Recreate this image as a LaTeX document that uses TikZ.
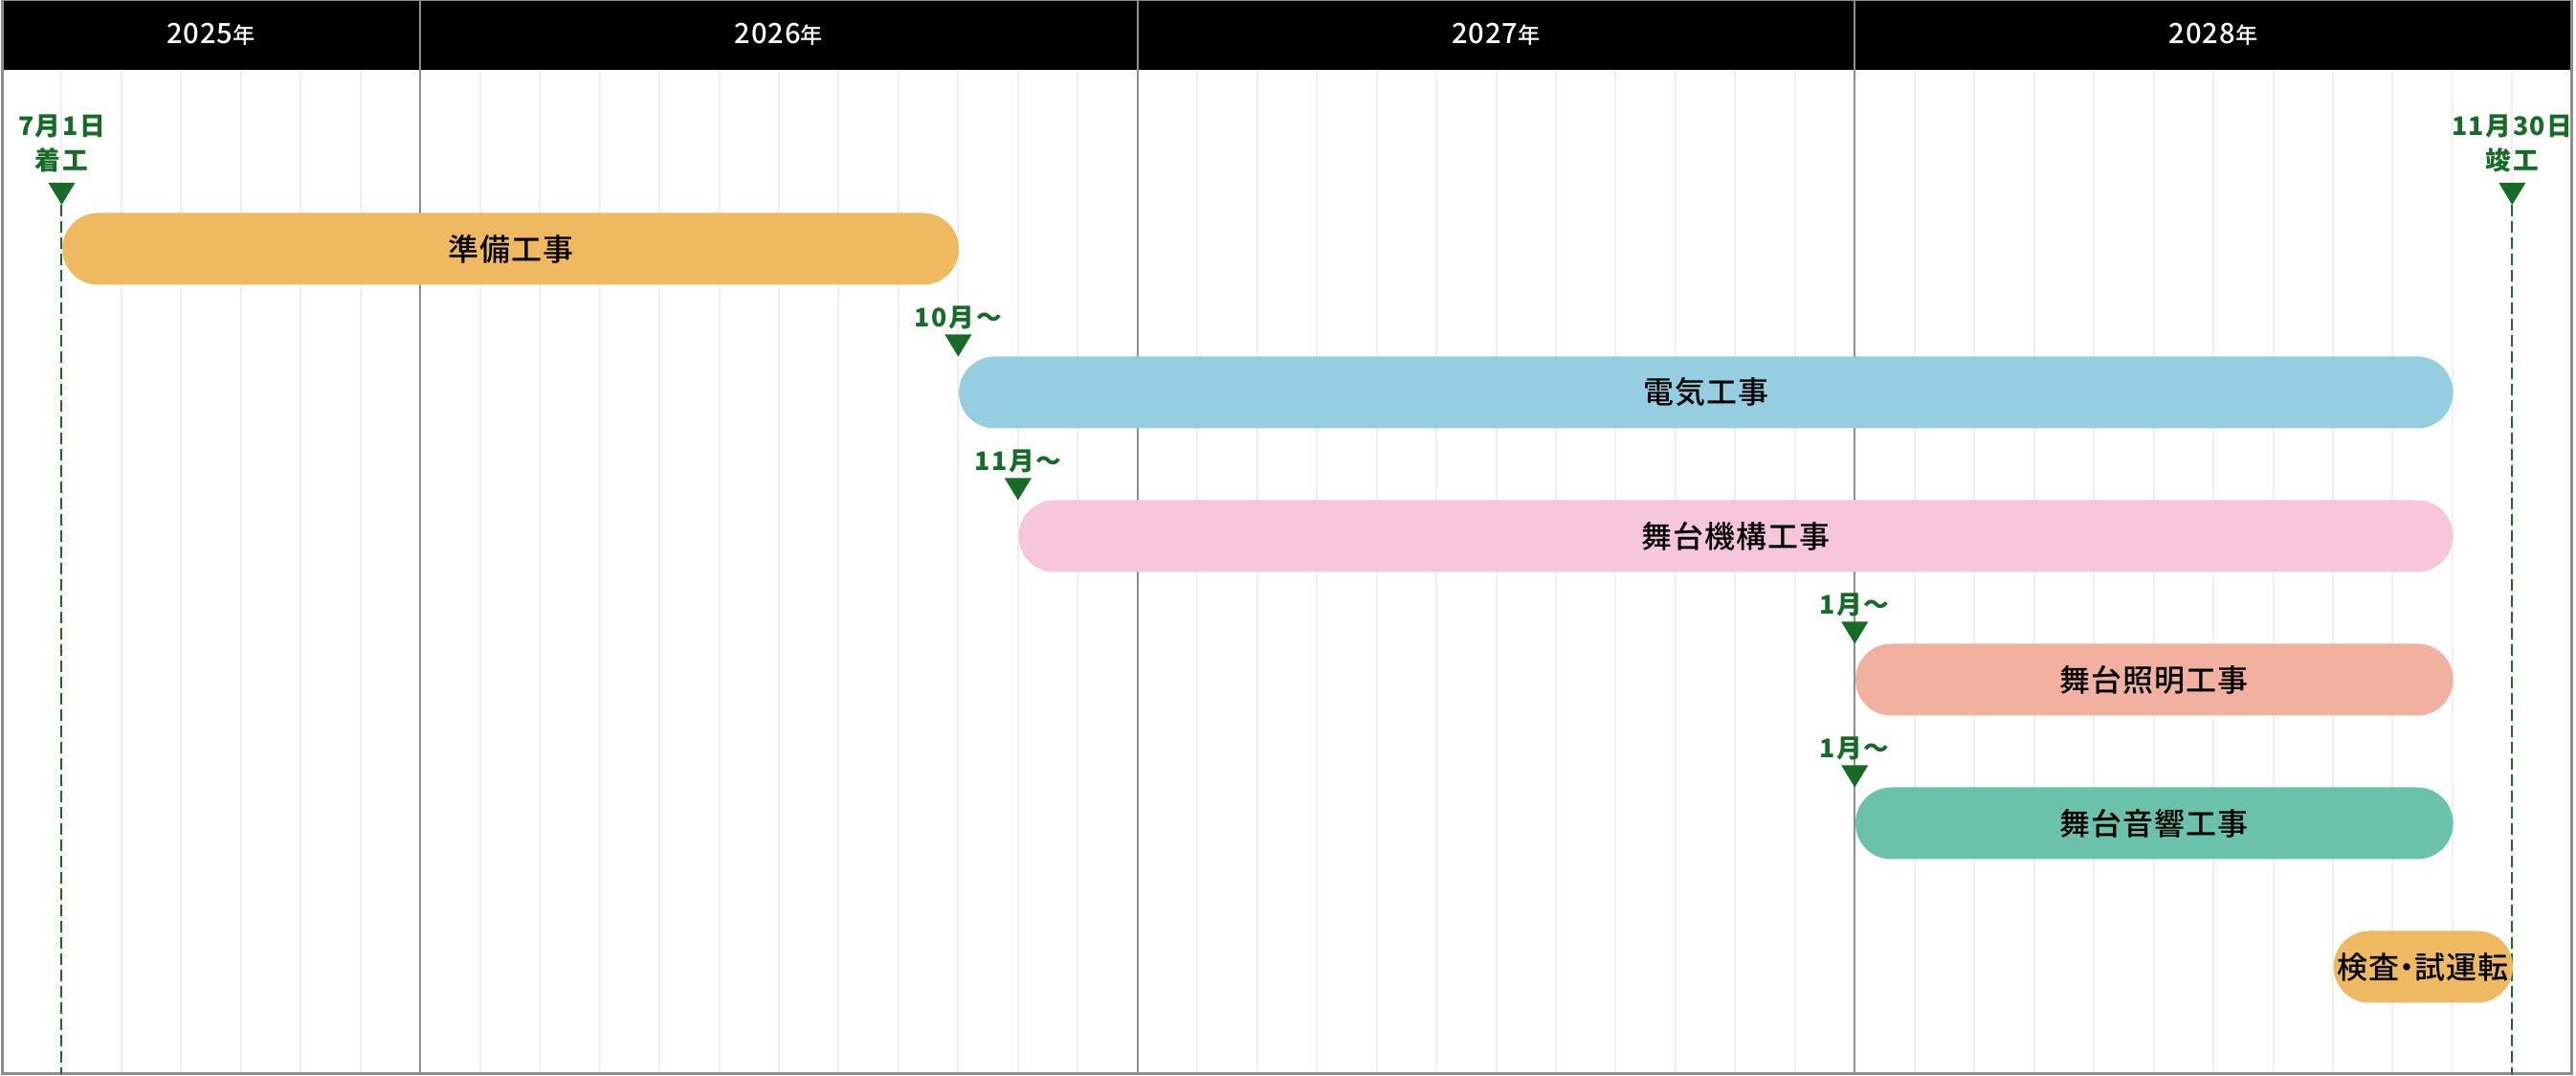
\documentclass[tikz,border=0pt]{standalone}
\usepackage{fontspec}
\setmainfont{Noto Sans CJK JP}
\newfontfamily\tagfont{Noto Sans CJK JP}[LetterSpace=6]
\newfontfamily\medfont{Noto Sans CJK JP Medium}[LetterSpace=3]
\usetikzlibrary{positioning}
\definecolor{mkgreen}{HTML}{166B27}
\definecolor{gridgray}{HTML}{EFEFEF}
\definecolor{yeargray}{HTML}{8E8E8E}
\definecolor{barprep}{HTML}{EFB961}
\definecolor{barelec}{HTML}{94CEE0}
\definecolor{barmech}{HTML}{F7C6DA}
\definecolor{barlight}{HTML}{F1B0A0}
\definecolor{barsound}{HTML}{69C2A9}

\begin{document}
\begin{tikzpicture}[x=6.246mm, y=1cm,
    barbox/.style={rectangle, rounded corners=3.75mm, minimum height=7.5mm, inner sep=0pt, anchor=west,
        text=black, font=\medfont\fontsize{9.1}{9}\selectfont},
    datetag/.style={text=mkgreen, inner sep=0pt, font=\tagfont\fontsize{7.6}{8}\selectfont\bfseries},
    yearlabel/.style={text=white, inner sep=0pt, font=\medfont\fontsize{8.3}{8}\selectfont},
    tipmark/.style={fill=mkgreen},
    duedash/.style={mkgreen, line width=0.2mm, dash pattern=on 1.2mm off 0.5mm}]
    \useasboundingbox (-0.032,0) rectangle (43.068,-11.24);
    % header and month grid
    \fill[black] (0,0) rectangle (43,-0.726);
    \foreach \m in {1,...,42}
        \draw[gridgray, line width=0.2mm] (\m,-0.726) -- (\m,-11.22);
    \foreach \m in {7,19,31}
        \draw[yeargray, line width=0.2mm] (\m,0) -- (\m,-11.22);
    \draw[yeargray, line width=0.3mm] (0,0) rectangle (43,-11.22);
    \node[yearlabel] (y2025) at (3.5,-0.363) {2025{\fontsize{6.6}{7}\selectfont 年}};
    \node[yearlabel] (y2026) at (13,-0.363) {2026{\fontsize{6.6}{7}\selectfont 年}};
    \node[yearlabel] (y2027) at (25,-0.363) {2027{\fontsize{6.6}{7}\selectfont 年}};
    \node[yearlabel] (y2028) at (37,-0.363) {2028{\fontsize{6.6}{7}\selectfont 年}};

    % marker tips
    \coordinate (bottom) at (0,-11.22);
    \coordinate (start) at (1,-2.14);
    \coordinate (finish) at (42,-2.14);
    \coordinate (t2) at (16,-3.725);
    \coordinate (t3) at (17,-5.225);
    \coordinate (t4) at (31,-6.725);
    \coordinate (t5) at (31,-8.225);
    \draw[duedash] (start) -- (start |- bottom);
    \draw[duedash] (finish) -- (finish |- bottom);

    % bars
    \node[barbox, fill=barprep, minimum width=9.369cm] (prep) at (1,-2.6) {準備工事};
    \node[barbox, fill=barelec, minimum width=15.615cm] (elec) at (16,-4.1) {電気工事};
    \node[barbox, fill=barmech, minimum width=14.99cm] (mech) at (17,-5.6) {舞台機構工事};
    \node[barbox, fill=barlight, minimum width=6.246cm] (light) at (31,-7.1) {舞台照明工事};
    \node[barbox, fill=barsound, minimum width=6.246cm] (sound) at (31,-8.6) {舞台音響工事};
    \node[barbox, fill=barprep, minimum width=1.874cm] (test) at (39,-10.1) {検査\kern-0.25em・\kern-0.25em試運転};

    % markers and dates
    \foreach \t in {start,finish,t2,t3,t4,t5}
        \fill[tipmark] (\t) -- ++(-1.4mm,2.3mm) -- ++(2.8mm,0) -- cycle;
    \node[datetag] (startday) at ([yshift=8.2mm]start) {7月1日};
    \node[datetag] (startword) at ([yshift=4.7mm]start) {着工};
    \node[datetag] (finishday) at ([yshift=8.2mm]finish) {11月30日};
    \node[datetag] (finishword) at ([yshift=4.7mm]finish) {竣工};
    \node[datetag] (from2) at ([yshift=4.1mm]t2) {10月〜};
    \node[datetag] (from3) at ([yshift=4.1mm]t3) {11月〜};
    \node[datetag] (from4) at ([yshift=4.1mm]t4) {1月〜};
    \node[datetag] (from5) at ([yshift=4.1mm]t5) {1月〜};
\end{tikzpicture}
\end{document}
